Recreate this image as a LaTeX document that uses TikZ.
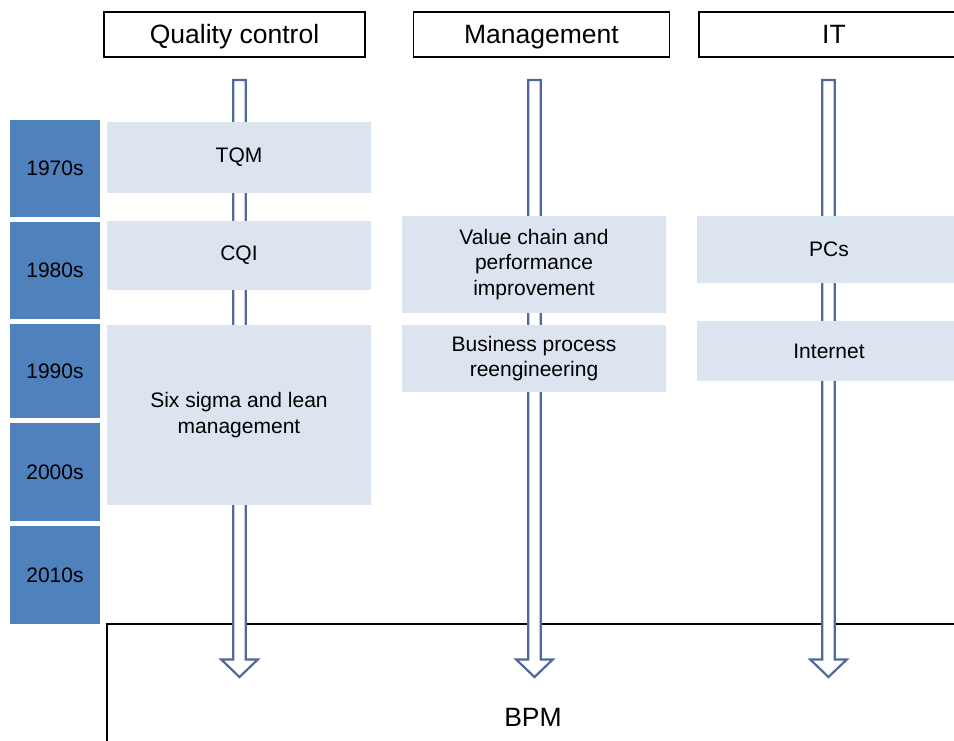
\documentclass[tikz,border=0pt]{standalone}
\usepackage{fontspec}
\setmainfont{Liberation Sans}
\usetikzlibrary{calc}
\definecolor{yearblue}{RGB}{79,129,189}
\definecolor{lightbox}{RGB}{220,228,240}
\definecolor{arrowline}{RGB}{79,105,152}
\tikzset{
  header/.style={draw=black, line width=1.2pt, fill=white, rectangle, inner sep=0pt,
    text height=23pt, text depth=5pt,
    font=\fontsize{26.5}{30}\selectfont, text=black},
  yearbox/.style={fill=yearblue, rectangle, inner sep=0pt, minimum width=90pt,
    font=\fontsize{21}{25.5}\selectfont, text=black},
  eventbox/.style={fill=lightbox, rectangle, inner sep=0pt, align=center,
    font=\fontsize{21}{25.5}\selectfont, text=black},
  hollow/.style={draw=arrowline, line width=2.2pt, fill=white, line join=miter},
  bpmbox/.style={draw=black, line width=1.2pt, fill=white}
}
\newcommand{\hollowarrow}[2]{%
  \draw[hollow] ($(#1)+(-6.3,0)$) -- ($(#1)+(6.3,0)$) -- ($(#2)+(6.3,-17.5)$)
    -- ($(#2)+(18.3,-17.5)$) -- (#2) -- ($(#2)+(-18.3,-17.5)$)
    -- ($(#2)+(-6.3,-17.5)$) -- cycle;}
\begin{document}
\begin{tikzpicture}[x=1pt,y=-1pt]
\useasboundingbox (0,0) rectangle (954,740);
% BPM box
\draw[bpmbox] (107,624) rectangle (962,748);
\node[font=\fontsize{26.5}{30}\selectfont, text=black] (bpm) at (533,717) {BPM};
% headers
\node[header, minimum width=261pt, minimum height=45pt] (qc) at (234.5,34.5) {Quality control};
\node[header, minimum width=256pt, minimum height=45pt] (mg) at (541.5,34.5) {Management};
\node[header, minimum width=270pt, minimum height=45pt] (it) at (834,34.5) {IT};
% arrows
\coordinate (qtop) at (239.5,80);
\coordinate (qtip) at (239.5,677);
\coordinate (mtop) at (534.5,80);
\coordinate (mtip) at (534.5,677);
\coordinate (itop) at (828.5,80);
\coordinate (itip) at (828.5,677);
\hollowarrow{qtop}{qtip}
\hollowarrow{mtop}{mtip}
\hollowarrow{itop}{itip}
% year boxes
\node[yearbox, minimum height=96.5pt] (y70) at (55,168.3) {1970s};
\node[yearbox, minimum height=96.5pt] (y80) at (55,270.3) {1980s};
\node[yearbox, minimum height=94pt] (y90) at (55,371) {1990s};
\node[yearbox, minimum height=97.5pt] (y00) at (55,471.8) {2000s};
\node[yearbox, minimum height=98pt] (y10) at (55,575) {2010s};
% quality control events
\node[eventbox, minimum width=264pt, minimum height=71pt] (tqm) at (239,157.5) {TQM};
\node[eventbox, minimum width=264pt, minimum height=69pt] (cqi) at (239,255.5) {CQI};
\node[eventbox, minimum width=264pt, minimum height=180pt] (six) at (239,415) {Six sigma and lean\\management};
% management events
\node[eventbox, minimum width=264pt, minimum height=97pt] (vc) at (534,264.5) {Value chain and\\performance\\improvement};
\node[eventbox, minimum width=264pt, minimum height=67pt] (bpr) at (534,358.5) {Business process\\reengineering};
% IT events
\node[eventbox, minimum width=264pt, minimum height=67pt] (pc) at (829,249.5) {PCs};
\node[eventbox, minimum width=264pt, minimum height=60pt] (inet) at (829,351) {Internet};
\end{tikzpicture}
\end{document}
